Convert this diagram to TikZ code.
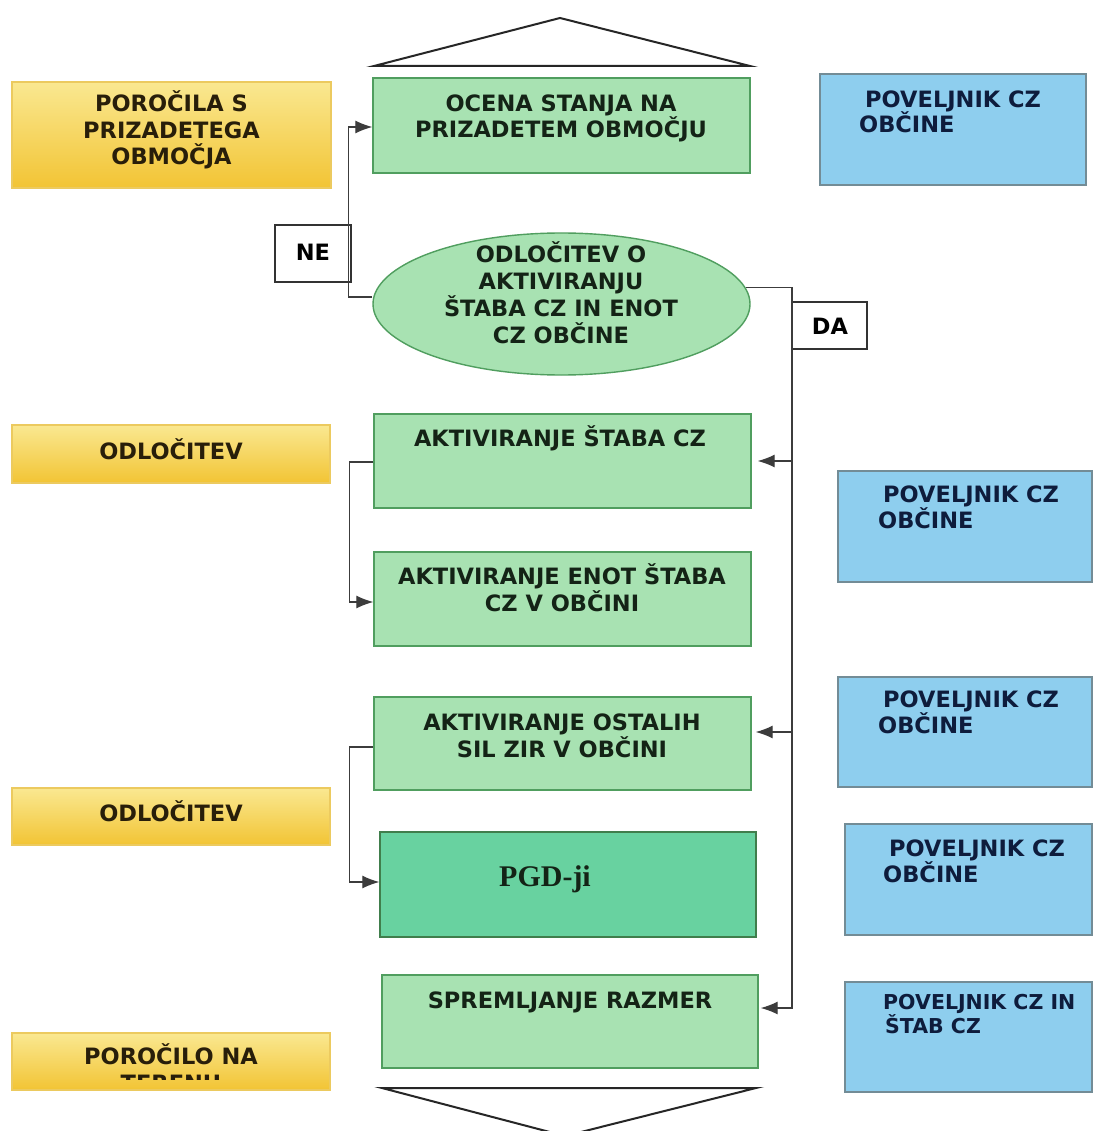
\documentclass[tikz,border=0pt]{standalone}
\usepackage{fontspec}
\setmainfont{DejaVu Sans}
\newfontfamily\pgdfont{Liberation Serif}
\usetikzlibrary{arrows.meta,shapes.geometric}
\definecolor{gfill}{RGB}{168,226,178}
\definecolor{gdraw}{RGB}{80,158,95}
\definecolor{pgdfill}{RGB}{104,210,160}
\definecolor{bfill}{RGB}{142,206,238}
\definecolor{bdraw}{RGB}{115,140,150}
\definecolor{ytop}{RGB}{250,232,145}
\definecolor{ybot}{RGB}{242,196,52}
\definecolor{ydraw}{RGB}{236,202,95}
\definecolor{gtextc}{RGB}{20,35,22}
\definecolor{btextc}{RGB}{14,28,60}
\definecolor{ytextc}{RGB}{40,30,10}
\definecolor{linec}{RGB}{60,60,60}
\tikzset{
  box/.style={rectangle,inner sep=0pt,line width=1.4pt},
  gbox/.style={box,draw=gdraw,fill=gfill},
  pbox/.style={box,draw=gdraw!80!black,fill=pgdfill},
  bbox/.style={box,draw=bdraw,fill=bfill},
  ybox/.style={box,draw=ydraw,top color=ytop,bottom color=ybot},
  wbox/.style={box,draw=black!80,fill=white,line width=1.5pt},
  txt/.style={inner sep=0pt,align=center,anchor=base,font=\bfseries\fontsize{22.5}{26.7}\selectfont},
  gtxt/.style={txt,text=gtextc},
  ytxt/.style={txt,text=ytextc},
  btxt/.style={txt,align=left,anchor=base west,text=btextc,font=\bfseries\fontsize{22.5}{25.5}\selectfont},
  conn/.style={draw=linec,line width=1.2pt},
  arr/.style={conn,-{Latex[length=17pt,width=13pt]}},
  tri/.style={draw=black!85,line width=2pt,line join=miter}
}
\begin{document}
\begin{tikzpicture}[x=1pt,y=-1pt]
\useasboundingbox[fill=white] (0,0) rectangle (1094,1131);
% triangles
\draw[tri] (374,66) -- (560,18) -- (750,66) -- cycle;
\draw[tri] (382,1088) -- (756,1088) -- (565,1136) -- cycle;
% boxes
\node[ybox,minimum width=319pt,minimum height=106pt] (y1) at (171.5,135) {};
\node[gbox,minimum width=377pt,minimum height=95pt] (ocena) at (561.5,125.5) {};
\node[bbox,minimum width=266pt,minimum height=111pt] (b1) at (953,129.5) {};
\node[wbox,minimum width=76pt,minimum height=57pt] (ne) at (313,253.5) {};
\node[ellipse,line width=1.4pt,draw=gdraw,fill=gfill,inner sep=0pt,minimum width=377pt,minimum height=142pt] (ell) at (561.5,304) {};
\node[wbox,minimum width=75pt,minimum height=47pt] (da) at (829.5,325.5) {};
\node[ybox,minimum width=318pt,minimum height=58pt] (y2) at (171,454) {};
\node[gbox,minimum width=377pt,minimum height=94pt] (akt1) at (562.5,461) {};
\node[bbox,minimum width=254pt,minimum height=111pt] (b2) at (965,526.5) {};
\node[gbox,minimum width=377pt,minimum height=94pt] (akt2) at (562.5,599) {};
\node[gbox,minimum width=377pt,minimum height=93pt] (akt3) at (562.5,743.5) {};
\node[bbox,minimum width=254pt,minimum height=110pt] (b3) at (965,732) {};
\node[ybox,minimum width=318pt,minimum height=57pt] (y3) at (171,816.5) {};
\node[pbox,minimum width=376pt,minimum height=105pt] (pgd) at (568,884.5) {};
\node[bbox,minimum width=247pt,minimum height=111pt] (b4) at (968.5,879.5) {};
\node[gbox,minimum width=376pt,minimum height=93pt] (sprem) at (570,1021.5) {};
\node[bbox,minimum width=247pt,minimum height=110pt] (b5) at (968.5,1037) {};
\node[ybox,minimum width=318pt,minimum height=57pt] (y4) at (171,1061.5) {};
% texts (multi-line: anchor is the baseline of the last line)
\node[ytxt] (y1t) at (171.5,165) {POROČILA S\\PRIZADETEGA\\OBMOČJA};
\node[gtxt] (ocenat) at (561,138) {OCENA STANJA NA\\PRIZADETEM OBMOČJU};
\node[btxt] (b1t) at (859,133) {\hspace{6pt}POVELJNIK CZ\\OBČINE};
\node[txt] (net) at (313,261) {NE};
\node[gtxt] (ellt) at (561,343) {ODLOČITEV O\\AKTIVIRANJU\\ŠTABA CZ IN ENOT\\CZ OBČINE};
\node[txt] (dat) at (830,334) {DA};
\node[ytxt] (y2t) at (171,459) {ODLOČITEV};
\node[gtxt] (akt1t) at (560,446) {AKTIVIRANJE ŠTABA CZ};
\node[btxt] (b2t) at (878,528) {\hspace{5pt}POVELJNIK CZ\\OBČINE};
\node[gtxt] (akt2t) at (562,611) {AKTIVIRANJE ENOT ŠTABA\\CZ V OBČINI};
\node[gtxt] (akt3t) at (562,757) {AKTIVIRANJE OSTALIH\\SIL ZIR V OBČINI};
\node[btxt] (b3t) at (878,733) {\hspace{5pt}POVELJNIK CZ\\OBČINE};
\node[ytxt] (y3t) at (171,821) {ODLOČITEV};
\node[inner sep=0pt,anchor=base,text=gtextc,font=\pgdfont\bfseries\fontsize{30}{34}\selectfont] (pgdt) at (545,886) {PGD-ji};
\node[btxt] (b4t) at (883,882) {\hspace{6pt}POVELJNIK CZ\\OBČINE};
\node[gtxt] (spremt) at (570,1008) {SPREMLJANJE RAZMER};
\node[btxt,font=\bfseries\fontsize{20.5}{23.5}\selectfont] (b5t) at (883,1033) {POVELJNIK CZ IN\\\hspace{2pt}ŠTAB CZ};
\begin{scope}
\clip (12,1033) rectangle (330,1079);
\node[ytxt] (y4t) at (171,1091) {POROČILO NA\\TERENU};
\end{scope}
% connectors
\coordinate (bus) at (792,0);
\draw[arr] ([yshift=7pt]ell.west) -- ++(-24pt,0) |- ([yshift=-1.5pt]ocena.west);
\draw[arr] (ell.5) -- (ell.5 -| bus) |- ([xshift=2pt,yshift=13.5pt]sprem.east);
\coordinate (t1) at ([xshift=6pt]akt1.east);
\coordinate (t3) at ([xshift=4pt,yshift=11.5pt]akt3.east);
\draw[arr] (t1 -| bus) -- (t1);
\draw[arr] (t3 -| bus) -- (t3);
\draw[arr] ([yshift=-1pt]akt1.west) -- ++(-24pt,0) |- ([yshift=-3pt]akt2.west);
\draw[arr] ([yshift=-3.5pt]akt3.west) -- ++(-24pt,0) |- ([yshift=2.5pt]pgd.west);
\end{tikzpicture}
\end{document}
